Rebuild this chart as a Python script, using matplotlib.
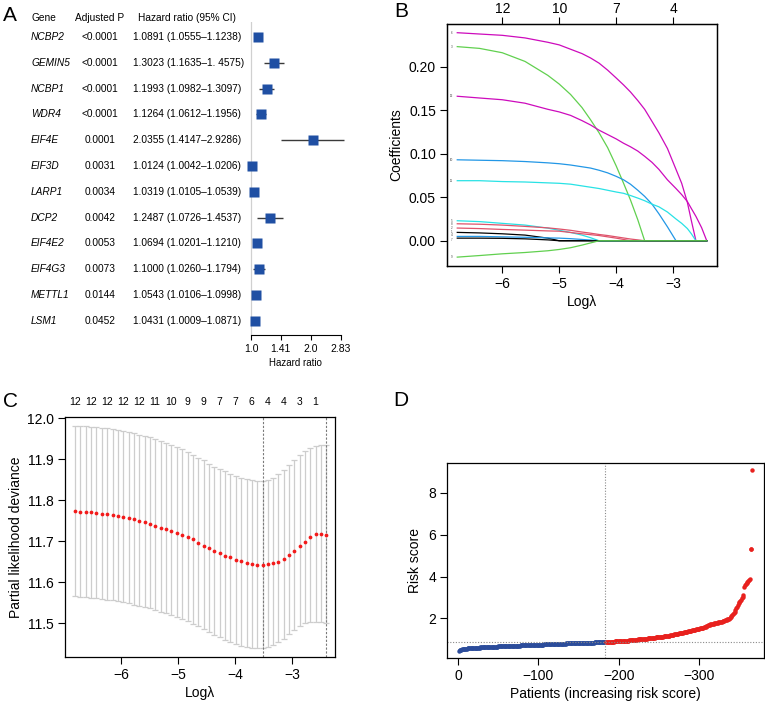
"""Forest plot, LASSO paths, CV deviance and risk score panels."""

import numpy as np
import matplotlib
matplotlib.use('Agg')
import matplotlib.pyplot as plt
from matplotlib.transforms import blended_transform_factory

plt.rcParams['font.family'] = ['Liberation Sans', 'DejaVu Sans']
plt.rcParams['axes.linewidth'] = 0.9

W, H = 765., 708.

# ---- panel A: univariate cox
genes = ['NCBP2', 'GEMIN5', 'NCBP1', 'WDR4', 'EIF4E', 'EIF3D', 'LARP1',
         'DCP2', 'EIF4E2', 'EIF4G3', 'METTL1', 'LSM1']
p_adj = ['<0.0001', '<0.0001', '<0.0001', '<0.0001', '0.0001', '0.0031',
         '0.0034', '0.0042', '0.0053', '0.0073', '0.0144', '0.0452']
hr = [1.0891, 1.3023, 1.1993, 1.1264, 2.0355, 1.0124, 1.0319, 1.2487,
      1.0694, 1.1000, 1.0543, 1.0431]
hr_lo = [1.0555, 1.1635, 1.0982, 1.0612, 1.4147, 1.0042, 1.0105, 1.0726,
         1.0201, 1.0260, 1.0106, 1.0009]
hr_hi = [1.1238, 1.4575, 1.3097, 1.1956, 2.9286, 1.0206, 1.0539, 1.4537,
         1.1210, 1.1794, 1.0998, 1.0871]
hr_text = ['1.0891 (1.0555\u20131.1238)', '1.3023 (1.1635\u20131. 4575)',
           '1.1993 (1.0982\u20131.3097)', '1.1264 (1.0612\u20131.1956)',
           '2.0355 (1.4147\u20132.9286)', '1.0124 (1.0042\u20131.0206)',
           '1.0319 (1.0105\u20131.0539)', '1.2487 (1.0726\u20131.4537)',
           '1.0694 (1.0201\u20131.1210)', '1.1000 (1.0260\u20131.1794)',
           '1.0543 (1.0106\u20131.0998)', '1.0431 (1.0009\u20131.0871)']
hr_ticks = [1.0, 1.41, 2.0, 2.83]
hr_ticklabels = ['1.0', '1.41', '2.0', '2.83']

# ---- panel B: coefficient paths (knots along log lambda)
path_loglam = [-6.79, -6.40, -6.00, -5.60, -5.20, -5.00, -4.80, -4.60, -4.45,
               -4.30, -4.15, -4.00, -3.87, -3.75, -3.62, -3.50, -3.37, -3.25,
               -3.10, -2.95, -2.85, -2.75, -2.68, -2.60, -2.50, -2.41]
path_vars = [6, 3, 12, 10, 11, 5, 8, 2, 1, 4, 7, 9]
path_coefs = [
    # 6
    [0.239, 0.2375, 0.236, 0.233, 0.228, 0.225, 0.220, 0.215, 0.210, 0.204, 0.196, 0.187, 0.179,
     0.171, 0.161, 0.151, 0.137, 0.124, 0.106, 0.082, 0.066, 0.044, 0.023, 0.0, 0.0, 0.0],
    # 3
    [0.223, 0.221, 0.216, 0.206, 0.190, 0.180, 0.168, 0.153, 0.139, 0.124, 0.107, 0.086, 0.066,
     0.047, 0.024, 0.0, 0.0, 0.0, 0.0, 0.0, 0.0, 0.0, 0.0, 0.0, 0.0, 0.0],
    # 12
    [0.166, 0.164, 0.162, 0.158, 0.151, 0.148, 0.144, 0.138, 0.133, 0.127, 0.122, 0.117, 0.112,
     0.108, 0.103, 0.097, 0.090, 0.082, 0.070, 0.060, 0.053, 0.045, 0.037, 0.028, 0.015, 0.0],
    # 10
    [0.093, 0.0925, 0.092, 0.091, 0.0895, 0.0885, 0.087, 0.085, 0.0835, 0.081, 0.078, 0.074,
     0.070, 0.065, 0.058, 0.051, 0.042, 0.031, 0.016, 0.0, 0.0, 0.0, 0.0, 0.0, 0.0, 0.0],
    # 11
    [0.069, 0.069, 0.068, 0.0675, 0.0665, 0.066, 0.065, 0.063, 0.0615, 0.060, 0.058, 0.056,
     0.0545, 0.052, 0.049, 0.046, 0.042, 0.039, 0.033, 0.025, 0.020, 0.014, 0.008, 0.0, 0.0, 0.0],
    # 5
    [0.023, 0.022, 0.020, 0.018, 0.0145, 0.012, 0.0095, 0.0065, 0.0035, 0.0, 0.0, 0.0, 0.0,
     0.0, 0.0, 0.0, 0.0, 0.0, 0.0, 0.0, 0.0, 0.0, 0.0, 0.0, 0.0, 0.0],
    # 8
    [0.0195, 0.019, 0.018, 0.0165, 0.0148, 0.0135, 0.012, 0.010, 0.0087, 0.0072, 0.006, 0.0045,
     0.0032, 0.002, 0.001, 0.0, 0.0, 0.0, 0.0, 0.0, 0.0, 0.0, 0.0, 0.0, 0.0, 0.0],
    # 2
    [0.0146, 0.014, 0.013, 0.0122, 0.0113, 0.011, 0.0095, 0.008, 0.007, 0.006, 0.0045, 0.003,
     0.0015, 0.0, 0.0, 0.0, 0.0, 0.0, 0.0, 0.0, 0.0, 0.0, 0.0, 0.0, 0.0, 0.0],
    # 1
    [0.0096, 0.009, 0.008, 0.0065, 0.003, 0.0, 0.0, 0.0, 0.0, 0.0, 0.0, 0.0, 0.0,
     0.0, 0.0, 0.0, 0.0, 0.0, 0.0, 0.0, 0.0, 0.0, 0.0, 0.0, 0.0, 0.0],
    # 4
    [0.005, 0.005, 0.0045, 0.004, 0.0033, 0.003, 0.0024, 0.0015, 0.0008, 0.0, 0.0, 0.0, 0.0,
     0.0, 0.0, 0.0, 0.0, 0.0, 0.0, 0.0, 0.0, 0.0, 0.0, 0.0, 0.0, 0.0],
    # 7
    [0.003, 0.003, 0.0028, 0.0022, 0.001, 0.0, 0.0, 0.0, 0.0, 0.0, 0.0, 0.0, 0.0,
     0.0, 0.0, 0.0, 0.0, 0.0, 0.0, 0.0, 0.0, 0.0, 0.0, 0.0, 0.0, 0.0],
    # 9
    [-0.0188, -0.017, -0.015, -0.0135, -0.0115, -0.010, -0.008, -0.005, -0.0025, 0.0, 0.0, 0.0,
     0.0, 0.0, 0.0, 0.0, 0.0, 0.0, 0.0, 0.0, 0.0, 0.0, 0.0, 0.0, 0.0, 0.0],
]
r_palette = ['black', '#DF536B', '#61D04F', '#2297E6', '#28E2E5', '#CD0BBC']
b_top_ticks = [-6, -5, -4, -3]
b_top_labels = ['12', '10', '7', '4']

# ---- panel C: cross validation
cv_loglam = [-6.80, -6.71, -6.61, -6.52, -6.43, -6.33, -6.24, -6.14, -6.05, -5.96,
             -5.86, -5.77, -5.68, -5.58, -5.49, -5.40, -5.30, -5.21, -5.12, -5.02,
             -4.93, -4.83, -4.74, -4.65, -4.55, -4.46, -4.37, -4.27, -4.18, -4.09,
             -3.99, -3.90, -3.80, -3.71, -3.62, -3.52, -3.43, -3.34, -3.24, -3.15,
             -3.06, -2.96, -2.87, -2.77, -2.68, -2.59, -2.49, -2.40]
cv_mean = [11.773, 11.772, 11.771, 11.770, 11.768, 11.767, 11.765, 11.763, 11.761, 11.759,
           11.756, 11.753, 11.750, 11.746, 11.742, 11.738, 11.733, 11.729, 11.725, 11.720,
           11.715, 11.709, 11.704, 11.696, 11.689, 11.682, 11.675, 11.670, 11.664, 11.660,
           11.655, 11.651, 11.646, 11.644, 11.642, 11.642, 11.643, 11.646, 11.650, 11.657,
           11.666, 11.676, 11.687, 11.698, 11.711, 11.717, 11.718, 11.716]
cv_upper = [11.981, 11.980, 11.980, 11.979, 11.978, 11.977, 11.975, 11.973, 11.971, 11.969,
            11.966, 11.963, 11.960, 11.956, 11.953, 11.949, 11.944, 11.939, 11.934, 11.929,
            11.924, 11.918, 11.911, 11.904, 11.897, 11.889, 11.882, 11.876, 11.870, 11.865,
            11.860, 11.855, 11.851, 11.848, 11.846, 11.846, 11.850, 11.855, 11.863, 11.873,
            11.885, 11.898, 11.910, 11.920, 11.928, 11.933, 11.935, 11.934]
cv_lower = [11.565, 11.564, 11.563, 11.562, 11.560, 11.559, 11.557, 11.555, 11.553, 11.551,
            11.548, 11.545, 11.542, 11.539, 11.536, 11.532, 11.528, 11.524, 11.519, 11.515,
            11.510, 11.504, 11.498, 11.492, 11.485, 11.478, 11.471, 11.465, 11.459, 11.454,
            11.449, 11.445, 11.442, 11.440, 11.439, 11.439, 11.441, 11.446, 11.453, 11.462,
            11.472, 11.483, 11.492, 11.499, 11.502, 11.503, 11.503, 11.500]
cv_nzero = ['12', '12', '12', '12', '12', '11', '10', '9', '9', '7', '7', '6',
            '4', '4', '3', '1']
lambda_min_idx = 35
lambda_1se_idx = 47

# ---- panel D: risk score, sorted
risk_score = [
    0.45, 0.48, 0.50, 0.51, 0.52, 0.53, 0.53, 0.54, 0.54, 0.55,
    0.55, 0.56, 0.56, 0.56, 0.57, 0.57, 0.57, 0.58, 0.58, 0.58,
    0.59, 0.59, 0.59, 0.60, 0.60, 0.60, 0.60, 0.61, 0.61, 0.61,
    0.61, 0.62, 0.62, 0.62, 0.62, 0.62, 0.63, 0.63, 0.63, 0.63,
    0.64, 0.64, 0.64, 0.64, 0.65, 0.65, 0.65, 0.65, 0.65, 0.66,
    0.66, 0.66, 0.66, 0.66, 0.66, 0.67, 0.67, 0.67, 0.67, 0.67,
    0.68, 0.68, 0.68, 0.68, 0.68, 0.68, 0.69, 0.69, 0.69, 0.69,
    0.69, 0.70, 0.70, 0.70, 0.70, 0.70, 0.70, 0.71, 0.71, 0.71,
    0.71, 0.71, 0.72, 0.72, 0.72, 0.72, 0.72, 0.72, 0.73, 0.73,
    0.73, 0.73, 0.73, 0.73, 0.74, 0.74, 0.74, 0.74, 0.74, 0.74,
    0.75, 0.75, 0.75, 0.75, 0.75, 0.75, 0.76, 0.76, 0.76, 0.76,
    0.76, 0.76, 0.76, 0.77, 0.77, 0.77, 0.77, 0.77, 0.77, 0.77,
    0.78, 0.78, 0.78, 0.78, 0.78, 0.78, 0.78, 0.79, 0.79, 0.79,
    0.79, 0.79, 0.79, 0.79, 0.80, 0.80, 0.80, 0.80, 0.80, 0.80,
    0.80, 0.81, 0.81, 0.81, 0.81, 0.81, 0.81, 0.81, 0.82, 0.82,
    0.82, 0.82, 0.82, 0.82, 0.82, 0.83, 0.83, 0.83, 0.83, 0.83,
    0.83, 0.83, 0.84, 0.84, 0.84, 0.84, 0.84, 0.84, 0.84, 0.85,
    0.85, 0.85, 0.85, 0.85, 0.85, 0.85, 0.86, 0.86, 0.86, 0.86,
    0.86, 0.86, 0.87,
    0.87, 0.87, 0.87, 0.88, 0.88, 0.88, 0.88,
    0.89, 0.89, 0.89, 0.89, 0.90, 0.90, 0.90, 0.90, 0.91, 0.91,
    0.91, 0.91, 0.92, 0.92, 0.92, 0.93, 0.93, 0.93, 0.93, 0.94,
    0.94, 0.94, 0.95, 0.95, 0.95, 0.96, 0.96, 0.96, 0.97, 0.97,
    0.97, 0.98, 0.98, 0.99, 0.99, 0.99, 1.00, 1.00, 1.01, 1.01,
    1.02, 1.02, 1.02, 1.03, 1.03, 1.04, 1.04, 1.05, 1.05, 1.06,
    1.06, 1.07, 1.07, 1.08, 1.08, 1.09, 1.09, 1.10, 1.10, 1.11,
    1.11, 1.12, 1.12, 1.13, 1.13, 1.14, 1.14, 1.15, 1.16, 1.16,
    1.17, 1.17, 1.18, 1.19, 1.19, 1.20, 1.21, 1.22, 1.23, 1.24,
    1.25, 1.25, 1.26, 1.27, 1.28, 1.29, 1.30, 1.30, 1.31, 1.32,
    1.33, 1.34, 1.35, 1.36, 1.37, 1.38, 1.39, 1.40, 1.41, 1.42,
    1.43, 1.44, 1.45, 1.45, 1.46, 1.47, 1.48, 1.49, 1.50, 1.51,
    1.52, 1.53, 1.54, 1.55, 1.56, 1.57, 1.58, 1.60, 1.62, 1.64,
    1.66, 1.68, 1.70, 1.71, 1.72, 1.73, 1.74, 1.75, 1.76, 1.77,
    1.78, 1.79, 1.80, 1.81, 1.82, 1.83, 1.84, 1.85, 1.86, 1.87,
    1.88, 1.90, 1.91, 1.93, 1.95, 1.97, 1.99, 2.02, 2.06, 2.10,
    2.15, 2.20, 2.26, 2.32, 2.40, 2.48, 2.56, 2.64, 2.72, 2.78,
    2.84, 2.90, 2.96, 3.02, 3.10, 3.50, 3.58, 3.64, 3.70, 3.76,
    3.80, 3.84, 3.88, 5.32, 5.34, 9.08,
]
n_low = 183
d_ticks = [0, 100, 200, 300]
d_ticklabels = ['0', '\u2212100', '\u2212200', '\u2212300']


def fig_box(x0, y0, x1, y1):
    """pixel box (top-left origin) -> figure fraction rect"""
    return [x0 / W, 1 - y1 / H, (x1 - x0) / W, (y1 - y0) / H]


def r_box(ax):
    ax.tick_params(direction='out', length=5, width=0.8, labelsize=10, pad=3)
    for s in ax.spines.values():
        s.set_linewidth(0.9)


fig = plt.figure(figsize=(W / 100, H / 100), dpi=100)

# ================= A
axA = fig.add_axes(fig_box(240, 22, 350, 335))
row_y = np.arange(len(genes))
x_hr = np.log2(hr)
axA.hlines(row_y, np.log2(hr_lo), np.log2(hr_hi), color='#3a3a3a', lw=1.0, zorder=2)
axA.plot(x_hr, row_y, 's', color='#1F4FA3', ms=6.5, mec='none', zorder=3)
axA.axvline(0, color='#d0d0d0', lw=0.9, zorder=1)
axA.set_xlim((240 - 251) / 60., (350 - 251) / 60.)
axA.set_ylim(11.55, -0.58)
for s in ['top', 'right', 'left']:
    axA.spines[s].set_visible(False)
axA.spines['bottom'].set_bounds(0, np.log2(2.83))
axA.spines['bottom'].set_linewidth(0.8)
axA.set_yticks([])
axA.set_xticks(np.log2(hr_ticks))
axA.set_xticklabels(hr_ticklabels)
axA.tick_params(axis='x', direction='out', length=3.5, width=0.8, labelsize=7.5, pad=3)
axA.set_xlabel('Hazard ratio', fontsize=7, labelpad=3)

trA = blended_transform_factory(fig.transFigure, axA.transData)
head_y = (18 - 37) / 25.8
fs_a = 7.3
fig.text(31 / W, head_y, 'Gene', transform=trA, fontsize=fs_a, va='center')
fig.text(100 / W, head_y, 'Adjusted P', transform=trA, fontsize=fs_a, va='center', ha='center')
fig.text(187 / W, head_y, 'Hazard ratio (95% CI)', transform=trA, fontsize=fs_a,
         va='center', ha='center')
for i in range(len(genes)):
    fig.text(31 / W, i, genes[i], transform=trA, fontsize=fs_a, va='center', style='italic')
    fig.text(100 / W, i, p_adj[i], transform=trA, fontsize=fs_a, va='center', ha='center')
    fig.text(133 / W, i, hr_text[i], transform=trA, fontsize=fs_a, va='center')

# ================= B
axB = fig.add_axes(fig_box(447, 24, 717, 266))
# small nudges so the stacked variable numbers at the left edge stay legible
label_nudge = {4: 0.0012, 7: -0.0022, 1: 0.0008}
for k, coefs in enumerate(path_coefs):
    v = path_vars[k]
    col = r_palette[(v - 1) % 6]
    axB.plot(path_loglam, coefs, color=col, lw=0.9)
    axB.text(-6.89, coefs[0] + label_nudge.get(v, 0), str(v), fontsize=2.2,
             va='center', ha='center', color='#444')
axB.set_xlim(-6.97, -2.23)
axB.set_ylim(-0.029, 0.249)
axB.set_xticks([-6, -5, -4, -3])
axB.set_xticklabels(['\u22126', '\u22125', '\u22124', '\u22123'])
axB.set_yticks([0.0, 0.05, 0.10, 0.15, 0.20])
axB.set_yticklabels(['0.00', '0.05', '0.10', '0.15', '0.20'])
r_box(axB)
axB.set_xlabel('Log\u03bb', fontsize=10, labelpad=3)
axB.set_ylabel('Coefficients', fontsize=10, labelpad=4)
axB2 = axB.twiny()
axB2.set_xlim(axB.get_xlim())
axB2.set_xticks(b_top_ticks)
axB2.set_xticklabels(b_top_labels)
axB2.tick_params(direction='out', length=5, width=0.8, labelsize=10, pad=1)

# ================= C
axC = fig.add_axes(fig_box(65, 417, 335, 657))
cm = np.array(cv_mean)
axC.errorbar(cv_loglam, cv_mean, yerr=[cm - np.array(cv_lower), np.array(cv_upper) - cm],
             fmt='none', ecolor='#cdcdcd', elinewidth=0.9, capsize=2.2, capthick=0.9)
axC.plot(cv_loglam, cv_mean, 'o', color='#F21A1A', ms=2.7, mec='none', zorder=3)
axC.axvline(cv_loglam[lambda_min_idx], color='#7a7a7a', lw=0.8, ls=(0, (2, 1.5)))
axC.axvline(cv_loglam[lambda_1se_idx], color='#7a7a7a', lw=0.8, ls=(0, (2, 1.5)))
axC.set_xlim(-6.98, -2.25)
axC.set_ylim(11.417, 12.003)
axC.set_xticks([-6, -5, -4, -3])
axC.set_xticklabels(['\u22126', '\u22125', '\u22124', '\u22123'])
axC.set_yticks([11.5, 11.6, 11.7, 11.8, 11.9, 12.0])
axC.set_yticklabels(['11.5', '11.6', '11.7', '11.8', '11.9', '12.0'])
r_box(axC)
axC.set_xlabel('Log\u03bb', fontsize=10, labelpad=3)
axC.set_ylabel('Partial likelihood deviance', fontsize=10, labelpad=3)
trC = blended_transform_factory(axC.transData, axC.transAxes)
for x, lab in zip(cv_loglam[::3], cv_nzero):
    axC.text(x, 1.0625, lab, transform=trC, fontsize=7.5, ha='center', va='center')

# ================= D
axD = fig.add_axes(fig_box(447, 463, 764, 658))
patients = np.arange(1, len(risk_score) + 1)
rs = np.array(risk_score)
axD.plot(patients[:n_low], rs[:n_low], 'o', color='#2B4C9B', ms=3.2, mec='none')
axD.plot(patients[n_low:], rs[n_low:], 'o', color='#E8211E', ms=3.2, mec='none')
axD.axvline(n_low, color='#8a8a8a', lw=0.8, ls=(0, (1, 1.5)))
axD.axhline(np.median(rs), color='#8a8a8a', lw=0.8, ls=(0, (1, 1.5)))
axD.set_xlim(-13.6, 380.6)
axD.set_ylim(0.105, 9.43)
axD.set_xticks(d_ticks)
axD.set_xticklabels(d_ticklabels)
axD.set_yticks([2, 4, 6, 8])
r_box(axD)
axD.set_xlabel('Patients (increasing risk score)', fontsize=10, labelpad=3)
axD.set_ylabel('Risk score', fontsize=10, labelpad=4)

# panel letters
for lab, x, y in [('A', 3, 6), ('B', 394, 2), ('C', 3, 392), ('D', 393, 391)]:
    fig.text(x / W, 1 - y / H, lab, fontsize=15, va='top', ha='left')

fig.savefig('out.png', dpi=100)
